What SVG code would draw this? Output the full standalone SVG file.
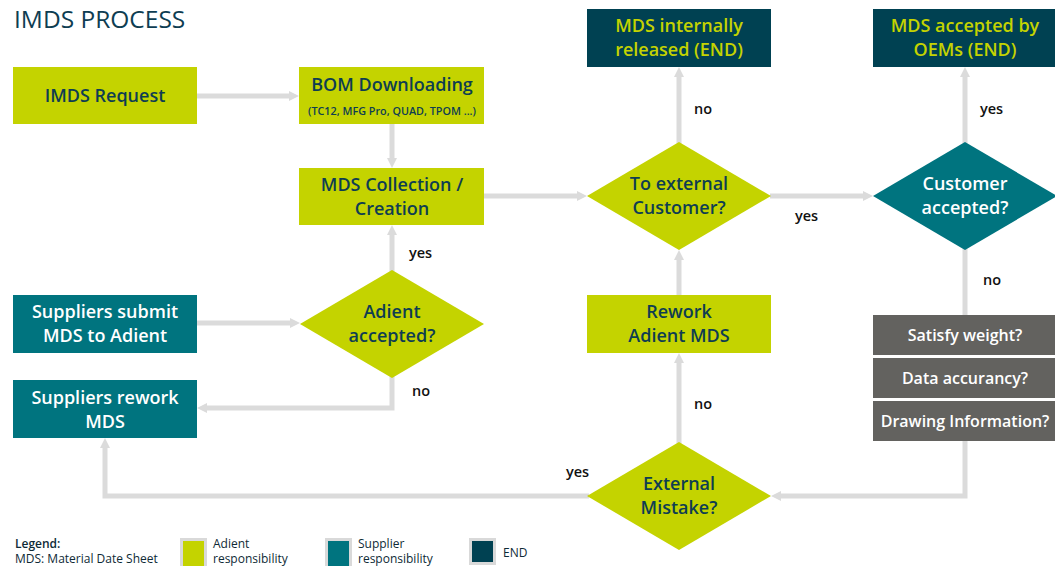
<svg xmlns="http://www.w3.org/2000/svg" width="1055" height="566" viewBox="0 0 1055 566">
  <style>
    text { font-family: "Open Sans", "Noto Sans", "Liberation Sans", sans-serif; }
    .lime { fill: #c4d300; }
    .teal { fill: #00747f; }
    .end { fill: #004152; }
    .grey { fill: #63625f; }
    .t-dark { fill: #0e3d52; font-size: 18px; font-weight: 600; text-anchor: middle; }
    .t-white { fill: #ffffff; font-size: 18px; font-weight: 600; text-anchor: middle; }
    .t-lime { fill: #c4d300; font-size: 18px; font-weight: 600; text-anchor: middle; }
    .t-grey { fill: #ffffff; font-size: 16px; font-weight: 600; text-anchor: middle; }
    .sub { fill: #0e3d52; font-size: 10.8px; font-weight: 600; text-anchor: middle; }
    .lbl { fill: #111111; font-size: 14.5px; font-weight: 600; }
    .conn { fill: none; stroke: #dbdbdb; stroke-width: 5; }
    .legend { fill: #0e2a36; font-size: 12px; }
  </style>
  <defs>
    <marker id="arrow" markerUnits="userSpaceOnUse" markerWidth="10" markerHeight="10" refX="0" refY="5" orient="auto">
      <path d="M0,0 L10,5 L0,10 z" fill="#dbdbdb"/>
    </marker>
  </defs>

  <rect width="1055" height="566" fill="#ffffff"/>

  <text x="14" y="28" style="font-size:24.5px; fill:#0e3d52;">IMDS PROCESS</text>

  <!-- connectors -->
  <g id="connectors">
    <path class="conn" d="M197,96 H289" marker-end="url(#arrow)"/>
    <path class="conn" d="M392,124 V158" marker-end="url(#arrow)"/>
    <path class="conn" d="M392,272 V235" marker-end="url(#arrow)"/>
    <path class="conn" d="M197,323 H290" marker-end="url(#arrow)"/>
    <path class="conn" d="M392,376 V408 H207" marker-end="url(#arrow)"/>
    <path class="conn" d="M484,196 H577" marker-end="url(#arrow)"/>
    <path class="conn" d="M679,144 V77" marker-end="url(#arrow)"/>
    <path class="conn" d="M770,196 H863" marker-end="url(#arrow)"/>
    <path class="conn" d="M965,144 V77" marker-end="url(#arrow)"/>
    <path class="conn" d="M965,248 V315"/>
    <path class="conn" d="M965,441 V496 H781" marker-end="url(#arrow)"/>
    <path class="conn" d="M679,444 V363" marker-end="url(#arrow)"/>
    <path class="conn" d="M679,295 V260" marker-end="url(#arrow)"/>
    <path class="conn" d="M589,496 H105 V448" marker-end="url(#arrow)"/>

    <text class="lbl" x="409" y="258">yes</text>
    <text class="lbl" x="412" y="396">no</text>
    <text class="lbl" x="694" y="114">no</text>
    <text class="lbl" x="795" y="221">yes</text>
    <text class="lbl" x="980" y="114">yes</text>
    <text class="lbl" x="983" y="285">no</text>
    <text class="lbl" x="694" y="409">no</text>
    <text class="lbl" x="566" y="477">yes</text>
  </g>

  <!-- nodes -->
  <g id="imds-request">
    <rect class="lime" x="13" y="67" width="184" height="57"/>
    <text class="t-dark" x="105" y="102">IMDS Request</text>
  </g>
  <g id="bom-downloading">
    <rect class="lime" x="299" y="67" width="185" height="57"/>
    <text class="t-dark" x="392" y="91">BOM Downloading</text>
    <text class="sub" x="392" y="115">(TC12, MFG Pro, QUAD, TPOM ...)</text>
  </g>
  <g id="mds-collection">
    <rect class="lime" x="299" y="168" width="185" height="57"/>
    <text class="t-dark" x="392" y="191">MDS Collection /</text>
    <text class="t-dark" x="392" y="215">Creation</text>
  </g>
  <g id="adient-accepted">
    <polygon class="lime" points="392,270 484,324 392,378 300,324"/>
    <text class="t-dark" x="392" y="318">Adient</text>
    <text class="t-dark" x="392" y="342">accepted?</text>
  </g>
  <g id="suppliers-submit">
    <rect class="teal" x="13" y="295" width="184" height="58"/>
    <text class="t-white" x="105" y="318">Suppliers submit</text>
    <text class="t-white" x="105" y="342">MDS to Adient</text>
  </g>
  <g id="suppliers-rework">
    <rect class="teal" x="13" y="380" width="184" height="58"/>
    <text class="t-white" x="105" y="404">Suppliers rework</text>
    <text class="t-white" x="105" y="428">MDS</text>
  </g>
  <g id="to-external">
    <polygon class="lime" points="679,142 771,196 679,250 587,196"/>
    <text class="t-dark" x="679" y="190">To external</text>
    <text class="t-dark" x="679" y="214">Customer?</text>
  </g>
  <g id="internally-released">
    <rect class="end" x="587" y="9" width="184" height="58"/>
    <text class="t-lime" x="679" y="32">MDS internally</text>
    <text class="t-lime" x="679" y="56">released (END)</text>
  </g>
  <g id="customer-accepted">
    <polygon class="teal" points="965,142 1057,196 965,250 873,196"/>
    <text class="t-white" x="965" y="190">Customer</text>
    <text class="t-white" x="965" y="214">accepted?</text>
  </g>
  <g id="accepted-by-oems">
    <rect class="end" x="873" y="9" width="182" height="58"/>
    <text class="t-lime" x="965" y="32">MDS accepted by</text>
    <text class="t-lime" x="965" y="56">OEMs (END)</text>
  </g>
  <g id="rework-adient">
    <rect class="lime" x="587" y="295" width="184" height="58"/>
    <text class="t-dark" x="679" y="318">Rework</text>
    <text class="t-dark" x="679" y="342">Adient MDS</text>
  </g>
  <g id="external-mistake">
    <polygon class="lime" points="679,442 771,496 679,550 587,496"/>
    <text class="t-dark" x="679" y="490">External</text>
    <text class="t-dark" x="679" y="514">Mistake?</text>
  </g>
  <g id="satisfy-weight">
    <rect class="grey" x="873" y="315" width="182" height="40"/>
    <text class="t-grey" x="965" y="341">Satisfy weight?</text>
  </g>
  <g id="data-accuracy">
    <rect class="grey" x="873" y="358" width="182" height="40"/>
    <text class="t-grey" x="965" y="384">Data accurancy?</text>
  </g>
  <g id="drawing-information">
    <rect class="grey" x="873" y="401" width="182" height="40"/>
    <text class="t-grey" x="965" y="427">Drawing Information?</text>
  </g>

  <!-- legend -->
  <g id="legend">
    <text class="legend" x="15" y="548" style="font-weight:600;">Legend:</text>
    <text class="legend" x="15" y="563">MDS: Material Date Sheet</text>
    <rect x="181.5" y="539.5" width="24" height="28" fill="#c4d300" stroke="#d9d9d9" stroke-width="3"/>
    <text class="legend" x="213" y="548">Adient</text>
    <text class="legend" x="213" y="563">responsibility</text>
    <rect x="326.5" y="539.5" width="24" height="28" fill="#00747f" stroke="#d9d9d9" stroke-width="3"/>
    <text class="legend" x="358" y="548">Supplier</text>
    <text class="legend" x="358" y="563">responsibility</text>
    <rect x="470.5" y="539.5" width="24" height="24" fill="#004152" stroke="#d9d9d9" stroke-width="3"/>
    <text class="legend" x="503" y="557">END</text>
  </g>
</svg>
